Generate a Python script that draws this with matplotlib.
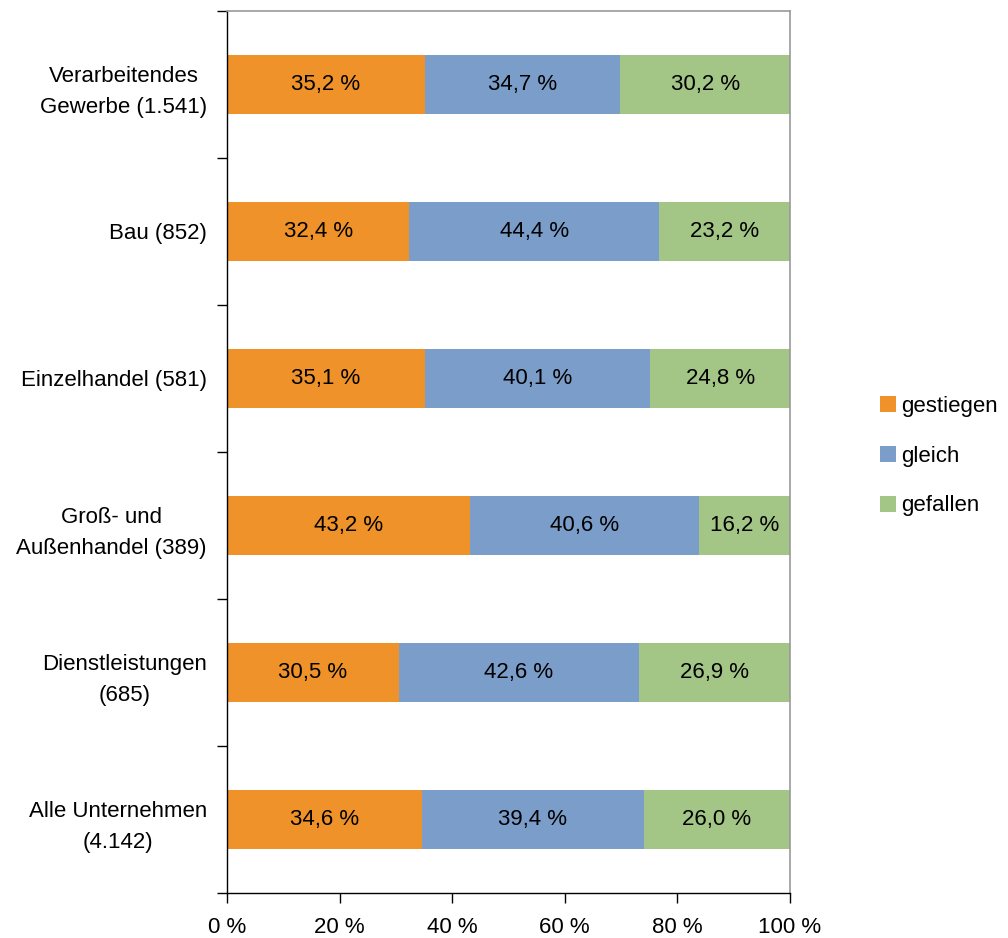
import matplotlib
matplotlib.use("Agg")
import matplotlib.pyplot as plt
import numpy as np

plt.rcParams['font.family'] = ['Liberation Sans', 'DejaVu Sans']

categories = [
    "Verarbeitendes\nGewerbe (1.541)",
    "Bau (852)",
    "Einzelhandel (581)",
    "Groß- und\nAußenhandel (389)",
    "Dienstleistungen\n(685)",
    "Alle Unternehmen\n(4.142)",
]
gestiegen = [35.2, 32.4, 35.1, 43.2, 30.5, 34.6]
gleich = [34.7, 44.4, 40.1, 40.6, 42.6, 39.4]
gefallen = [30.2, 23.2, 24.8, 16.2, 26.9, 26.0]
series_names = ["gestiegen", "gleich", "gefallen"]
colors = ["#EE9229", "#7B9DC9", "#A3C586"]
x_ticks = [0, 20, 40, 60, 80, 100]
x_tick_labels = ["0 %", "20 %", "40 %", "60 %", "80 %", "100 %"]

FS = 16

fig = plt.figure(figsize=(10.08, 9.38), dpi=100)
ax = fig.add_axes([227 / 1008, 1 - 893 / 938, (790 - 227) / 1008, (893 - 11) / 938])

n = len(categories)
pos = np.arange(n)
series = [gestiegen, gleich, gefallen]
totals = np.array(gestiegen) + np.array(gleich) + np.array(gefallen)
left = np.zeros(n)
for name, vals, col in zip(series_names, series, colors):
    vals = np.array(vals, dtype=float)
    share = vals / totals * 100
    ax.barh(pos, share, left=left, height=0.4, color=col, label=name, zorder=2)
    for p, l, s, v in zip(pos, left, share, vals):
        ax.text(l + s / 2, p, f"{v:.1f} %".replace(".", ","), ha="center", va="center",
                fontsize=FS, color="black", zorder=3)
    left += share

ax.set_xlim(0, 100)
ax.set_ylim(n - 0.5, -0.5)
ax.set_xticks(x_ticks)
ax.set_xticklabels(x_tick_labels, fontsize=FS)
ax.tick_params(axis="x", direction="out", length=7, width=1, pad=10.5)

# category boundaries as major ticks, labels centred on the bars via minor ticks
ax.set_yticks(np.arange(-0.5, n, 1.0))
ax.set_yticklabels([])
ax.tick_params(axis="y", which="major", direction="out", length=7, width=1)
ax.set_yticks(pos, minor=True)
ax.set_yticklabels(categories, minor=True, fontsize=FS, multialignment="center",
                   linespacing=1.6)
ax.tick_params(axis="y", which="minor", length=0, pad=14.4)

for side in ("left", "bottom"):
    ax.spines[side].set_color("black")
    ax.spines[side].set_linewidth(1)
for side in ("top", "right"):
    ax.spines[side].set_color("#999999")
    ax.spines[side].set_linewidth(1.2)

leg = fig.legend(loc="center left", bbox_to_anchor=(880 / 1008, 1 - 456 / 938),
                 frameon=False, fontsize=FS, handlelength=0.72, handleheight=0.72,
                 handletextpad=0.25, labelspacing=1.3, borderaxespad=0, borderpad=0)

fig.savefig("out.png", dpi=100)
